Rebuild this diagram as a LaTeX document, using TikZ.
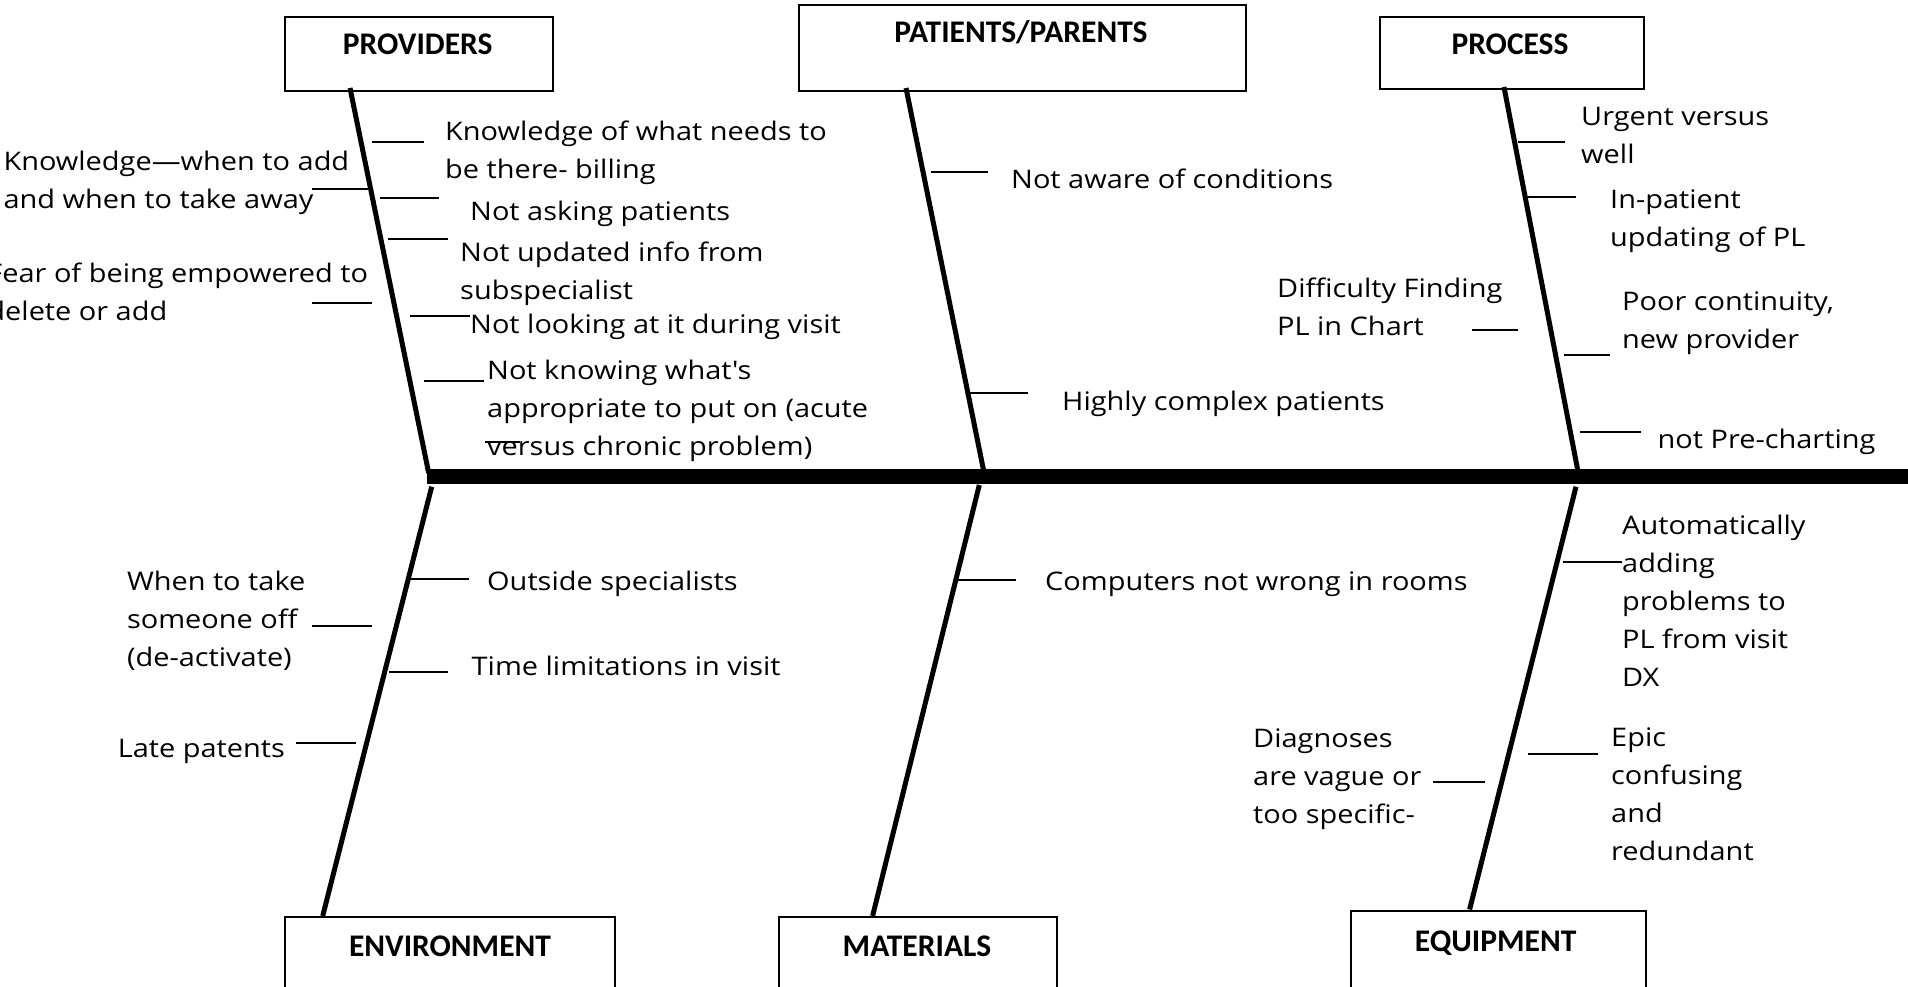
\documentclass[tikz,border=0pt]{standalone}
\usepackage{fontspec}
\setmainfont[FakeStretch=1.13, Ligatures=TeXOff]{Open Sans}
\newfontfamily\headfont{Carlito}
\tikzset{
  box/.style={draw, line width=2pt, rectangle, inner sep=0pt, anchor=north west},
  bone/.style={line width=5pt},
  spine/.style={line width=15pt},
  tick/.style={line width=2pt},
  lbl/.style={anchor=base west, inner sep=0pt, align=left, font=\fontsize{25.6}{38}\selectfont},
  lblr/.style={lbl, anchor=base east},
  head/.style={anchor=base, inner sep=0pt, font=\headfont\bfseries\fontsize{31.5}{36}\selectfont},
}
\begin{document}
\begin{tikzpicture}[x=1pt,y=-1pt]
\useasboundingbox (0,0) rectangle (1908,987);
\clip (0,0) rectangle (1908,987);
% boxes
\node[box, minimum width=268pt, minimum height=74.3pt] (provbox) at (283.5,15.7) {};
\node[box, minimum width=447pt, minimum height=86pt] (patbox) at (798,4) {};
\node[box, minimum width=264.3pt, minimum height=72.3pt] (procbox) at (1378.7,15.7) {};
\node[box, minimum width=330pt, minimum height=100pt] (envbox) at (283.5,915.7) {};
\node[box, minimum width=278pt, minimum height=100pt] (matbox) at (778,916) {};
\node[box, minimum width=294.6pt, minimum height=100pt] (eqbox) at (1350,909.5) {};
% headers
\node[head] (provh) at (417.7,55) {PROVIDERS};
\node[head] (path) at (1021,42.7) {PATIENTS/PARENTS};
\node[head] (proch) at (1510,55) {PROCESS};
\node[head] (envh) at (450,956) {ENVIRONMENT};
\node[head] (math) at (917,956) {MATERIALS};
\node[head] (eqh) at (1495.6,951) {EQUIPMENT};
% spine and bones
\coordinate (spL) at (426.7,476.5);
\coordinate (spR) at (1920,476.5);
\draw[spine] (spL) -- (spR);
\coordinate (provT) at (350,88);   \coordinate (provB) at (428.7,473);
\coordinate (patT) at (906,88);    \coordinate (patB) at (983.7,471);
\coordinate (procT) at (1504,87);  \coordinate (procB) at (1577.7,470);
\coordinate (envT) at (431.7,486.7); \coordinate (envB) at (322.7,916);
\coordinate (matT) at (979.3,485);   \coordinate (matB) at (872.6,916);
\coordinate (eqT) at (1576,486.7);   \coordinate (eqB) at (1469.6,909.5);
\draw[bone] (provT) -- (provB);
\draw[bone] (patT) -- (patB);
\draw[bone] (procT) -- (procB);
\draw[bone] (envT) -- (envB);
\draw[bone] (matT) -- (matB);
\draw[bone] (eqT) -- (eqB);
% providers ticks
\draw[tick] (372,141.7) -- (424,141.7);
\draw[tick] (312,189.3) -- (367.7,189.3);
\draw[tick] (380,197.7) -- (439,197.7);
\draw[tick] (388,239.3) -- (448,239.3);
\draw[tick] (312,303.3) -- (372,303.3);
\draw[tick] (410,316) -- (470,316);
\draw[tick] (424,381) -- (484,381);
\draw[tick] (485,442) -- (520,442);
% patients ticks
\draw[tick] (931,172) -- (988,172);
\draw[tick] (968,393) -- (1028,393);
% process ticks
\draw[tick] (1518,141.7) -- (1565,141.7);
\draw[tick] (1524,197) -- (1576,197);
\draw[tick] (1472,330) -- (1518,330);
\draw[tick] (1564,355) -- (1610,355);
\draw[tick] (1580,431.7) -- (1640.5,431.7);
% environment ticks
\draw[tick] (409,579) -- (468.5,579);
\draw[tick] (312,625.7) -- (372,625.7);
\draw[tick] (389,671.7) -- (448,671.7);
\draw[tick] (296,743.3) -- (356,743.3);
% materials ticks
\draw[tick] (956,580) -- (1016,580);
% equipment ticks
\draw[tick] (1563,561.7) -- (1622,561.7);
\draw[tick] (1528,753.5) -- (1598,753.5);
\draw[tick] (1433,781.7) -- (1485,781.7);
% providers labels (anchor = baseline of last line)
\node[lbl] (p1) at (445,178.3) {Knowledge of what needs to\\be there- billing};
\node[lbl] (p2) at (470,220.7) {Not asking patients};
\node[lbl] (p3) at (460,299) {Not updated info from\\subspecialist};
\node[lbl] (p4) at (470,333) {Not looking at it during visit};
\node[lbl] (p5) at (487,455) {Not knowing what's\\appropriate to put on (acute\\versus chronic problem)};
\node[lbl] (p6) at (3.3,208.3) {Knowledge—when to add\\and when to take away};
\node[lblr] (p7) at (368.3,320) {Fear of being empowered to\\delete or add\hfill};
% patients labels
\node[lbl] (q1) at (1011,188.3) {Not aware of conditions};
\node[lbl] (q2) at (1062,410) {Highly complex patients};
% process labels
\node[lbl] (r1) at (1581,163.3) {Urgent versus\\well};
\node[lbl] (r2) at (1610,246.7) {In-patient\\updating of PL};
\node[lbl] (r3) at (1277,335) {Difficulty Finding\\PL in Chart};
\node[lbl] (r4) at (1622,348.3) {Poor continuity,\\new provider};
\node[lbl] (r5) at (1657.5,448.3) {not Pre-charting};
% environment labels
\node[lbl] (e1) at (487,590) {Outside specialists};
\node[lbl] (e2) at (126.8,666.7) {When to take\\someone off\\(de-activate)};
\node[lbl] (e3) at (471.5,675) {Time limitations in visit};
\node[lbl] (e4) at (117.6,757.3) {Late patents};
% materials labels
\node[lbl] (m1) at (1045,590) {Computers not wrong in rooms};
% equipment labels
\node[lbl] (q3) at (1622,686.7) {Automatically\\adding\\problems to\\PL from visit\\DX};
\node[lbl] (q4) at (1611,860) {Epic\\confusing\\and\\redundant};
\node[lbl] (q5) at (1253,823) {Diagnoses\\are vague or\\too specific-};
\end{tikzpicture}
\end{document}
